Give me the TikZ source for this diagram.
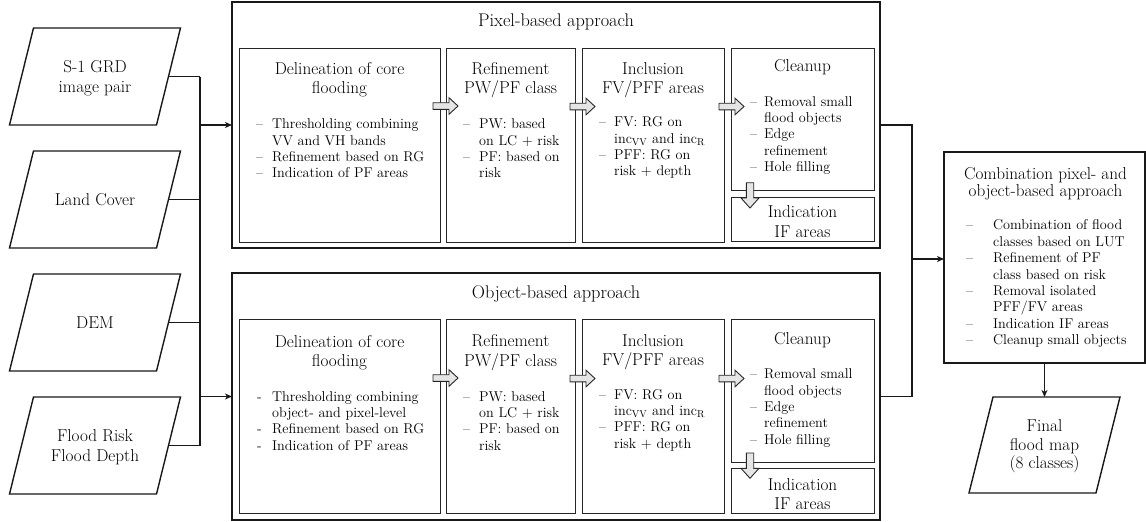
\documentclass[tikz,border=0pt]{standalone}
\usetikzlibrary{arrows.meta,calc}
\newcommand{\dsh}[1]{\makebox[#1pt][l]{--}}
\newcommand{\hyp}[1]{\makebox[#1pt][l]{\hspace{1pt}-}}
\newcommand{\paral}[4]{\draw[para] ($(#1)+({-#2+#4/2},-#3)$) -- ++({2*#2},0) -- ++({-#4},{2*#3}) -- ++({-2*#2},0) -- cycle;}
\newcommand{\harr}[2]{\draw[blk] (#1,#2) ++(0,-3.3) -- ++(16,0) -- ++(0,-5) -- ++(9,8.3) -- ++(-9,8.3) -- ++(0,-5) -- ++(-16,0) -- cycle;}
\newcommand{\varr}[2]{\draw[blk] (#1,#2) ++(-3.7,0) -- ++(0,15.3) -- ++(-5.3,0) -- ++(9,10) -- ++(9,-10) -- ++(-5.3,0) -- ++(0,-15.3) -- cycle;}
\begin{document}
\begin{tikzpicture}[x=1pt,y=-1pt,
  outerbox/.style={draw=black!90, line width=1.5pt, outer sep=0pt, inner sep=0pt},
  innerbox/.style={draw=black!85, line width=1pt, outer sep=0pt, inner sep=0pt},
  conn/.style={draw=black!90, line width=1.4pt},
  arr/.style={conn, -{Stealth[length=7pt,width=6pt,inset=2pt]}},
  blk/.style={draw=black!85, fill=black!10, line width=0.9pt, line join=miter},
  para/.style={draw=black!90, line width=1.4pt},
  ttl/.style={inner sep=0pt, font=\fontsize{18.3}{21}\selectfont},
  hd/.style={inner sep=0pt, align=center, font=\fontsize{17.2}{19.3}\selectfont},
  bd/.style={inner sep=0pt, anchor=north west, font=\fontsize{14.2}{16.4}\selectfont},
]
\useasboundingbox (0,0) rectangle (1146,522);

% ---------- inputs ----------
\node[hd, font=\fontsize{17.2}{20}\selectfont] (s1) at (95,78) {S-1 GRD\\image pair};
\node[hd] (lc) at (95,200) {Land Cover};
\node[hd] (dem) at (95,323) {DEM};
\node[hd, font=\fontsize{17.2}{20}\selectfont] (fr) at (95,447) {Flood Risk\\Flood Depth};
\paral{95,76.5}{73.5}{48.5}{24}
\paral{95,199.5}{73.5}{48.5}{24}
\paral{95,322.5}{73.5}{48.5}{24}
\paral{95,445.5}{73.5}{48.5}{24}
\coordinate (s1r) at (168.5,76.5);
\coordinate (lcr) at (168.5,199.5);
\coordinate (demr) at (168.5,322.5);
\coordinate (frr) at (168.5,445.5);
\coordinate (b1) at (200,76.5);
\coordinate (b2) at (200,199.5);
\coordinate (b3) at (200,322.5);
\coordinate (b4) at (200,445.5);

% ---------- pixel-based ----------
\node[outerbox, minimum width=648, minimum height=246] (pix) at (556,125) {};
\node[ttl] (pixt) at (556,22) {Pixel-based approach};
\node[innerbox, minimum width=201, minimum height=194] (del1) at (339.5,145) {};
\node[innerbox, minimum width=129, minimum height=194] (ref1) at (510.5,145) {};
\node[innerbox, minimum width=142, minimum height=194] (inc1) at (653,145) {};
\node[innerbox, minimum width=143, minimum height=142] (cln1) at (802.5,119) {};
\node[innerbox, minimum width=143, minimum height=44] (ind1) at (802.5,219) {};

\node[hd] (del1h) at (339.5,80) {Delineation of core\\flooding};
\node[hd] (ref1h) at (510.5,80) {Refinement\\PW/PF class};
\node[hd] (inc1h) at (653,80) {Inclusion\\FV/PFF areas};
\node[hd] (cln1h) at (802.5,67.5) {Cleanup};
\node[hd] (ind1h) at (802.5,221.5) {Indication\\IF areas};

\node[bd] (del1b) at (256,117) {\begin{tabular}{@{}l@{}l@{}}
\dsh{16} & Thresholding combining\\ & VV and VH bands\\
\dsh{16} & Refinement based on RG\\
\dsh{16} & Indication of PF areas\end{tabular}};
\node[bd] (ref1b) at (463,117) {\begin{tabular}{@{}l@{}l@{}}
\dsh{16} & PW: based\\ & on LC $+$ risk\\
\dsh{16} & PF: based on\\ & risk\end{tabular}};
\node[bd] (inc1b) at (599,115) {\begin{tabular}{@{}l@{}l@{}}
\dsh{15} & FV: RG on\\ & inc$_{\mathrm{VV}}$ and inc$_{\mathrm{R}}$\\
\dsh{15} & PFF: RG on\\ & risk $+$ depth\end{tabular}};
\node[bd] (cln1b) at (750,94.5) {\begin{tabular}{@{}l@{}l@{}}
\dsh{14} & Removal small\\ & flood objects\\
\dsh{14} & Edge\\ & refinement\\
\dsh{14} & Hole filling\end{tabular}};

\harr{433}{106}
\harr{570}{106.5}
\harr{719}{106.5}
\varr{750}{182.7}

% ---------- object-based ----------
\node[outerbox, minimum width=648, minimum height=247] (obj) at (556,396.5) {};
\node[ttl] (objt) at (556,294) {Object-based approach};
\node[innerbox, minimum width=201, minimum height=194] (del2) at (339.5,416) {};
\node[innerbox, minimum width=129, minimum height=194] (ref2) at (510.5,416) {};
\node[innerbox, minimum width=142, minimum height=194] (inc2) at (653,416) {};
\node[innerbox, minimum width=143, minimum height=143] (cln2) at (802.5,390.5) {};
\node[innerbox, minimum width=143, minimum height=45] (ind2) at (802.5,490.5) {};

\node[hd] (del2h) at (339.5,352.5) {Delineation of core\\flooding};
\node[hd] (ref2h) at (510.5,352.5) {Refinement\\PW/PF class};
\node[hd] (inc2h) at (653,352.5) {Inclusion\\FV/PFF areas};
\node[hd] (cln2h) at (802.5,340) {Cleanup};
\node[hd] (ind2h) at (802.5,494) {Indication\\IF areas};

\node[bd] (del2b) at (256,389.5) {\begin{tabular}{@{}l@{}l@{}}
\hyp{16} & Thresholding combining\\ & object- and pixel-level\\
\hyp{16} & Refinement based on RG\\
\hyp{16} & Indication of PF areas\end{tabular}};
\node[bd] (ref2b) at (463,389.5) {\begin{tabular}{@{}l@{}l@{}}
\dsh{16} & PW: based\\ & on LC $+$ risk\\
\dsh{16} & PF: based on\\ & risk\end{tabular}};
\node[bd] (inc2b) at (599,387.5) {\begin{tabular}{@{}l@{}l@{}}
\dsh{15} & FV: RG on\\ & inc$_{\mathrm{VV}}$ and inc$_{\mathrm{R}}$\\
\dsh{15} & PFF: RG on\\ & risk $+$ depth\end{tabular}};
\node[bd] (cln2b) at (750,367) {\begin{tabular}{@{}l@{}l@{}}
\dsh{14} & Removal small\\ & flood objects\\
\dsh{14} & Edge\\ & refinement\\
\dsh{14} & Hole filling\end{tabular}};

\harr{433}{378}
\harr{570}{378.5}
\harr{719}{378.5}
\varr{750}{453}

% ---------- combination ----------
\node[outerbox, minimum width=201, minimum height=211] (comb) at (1044.5,257.5) {};
\node[hd, font=\fontsize{17.2}{17.5}\selectfont] (combh) at (1045.5,183.5) {Combination pixel- and\\object-based approach};
\node[bd] (combb) at (966,218.3) {\begin{tabular}{@{}l@{}l@{}}
\dsh{27} & Combination of flood\\ & classes based on LUT\\
\dsh{27} & Refinement of PF\\ & class based on risk\\
\dsh{27} & Removal isolated\\ & PFF/FV areas\\
\dsh{27} & Indication IF areas\\
\dsh{27} & Cleanup small objects\end{tabular}};

\node[hd, font=\fontsize{17.2}{18.5}\selectfont] (fin) at (1044.5,446.5) {Final\\flood map\\(8 classes)};
\paral{1044.5,445}{63.5}{48}{24}
\coordinate (fintop) at (1044.5,397);

% ---------- connectors ----------
\draw[conn] (s1r) -- (b1);
\draw[conn] (lcr) -- (b2);
\draw[conn] (demr) -- (b3);
\draw[conn] (frr) -- (b4);
\draw[conn] (b1) -- (b4);
\draw[arr] (pix.west -| b1) -- (pix.west);
\draw[arr] (obj.west -| b1) -- (obj.west);
\coordinate (o1) at (912,125);
\coordinate (o2) at (912,396.5);
\coordinate (om) at (912,259);
\draw[conn] (pix.east) -- (o1) -- (o2) -- (obj.east);
\draw[arr] (om) -- (om -| comb.west);
\draw[arr] (comb.south) -- (fintop);
\end{tikzpicture}
\end{document}
